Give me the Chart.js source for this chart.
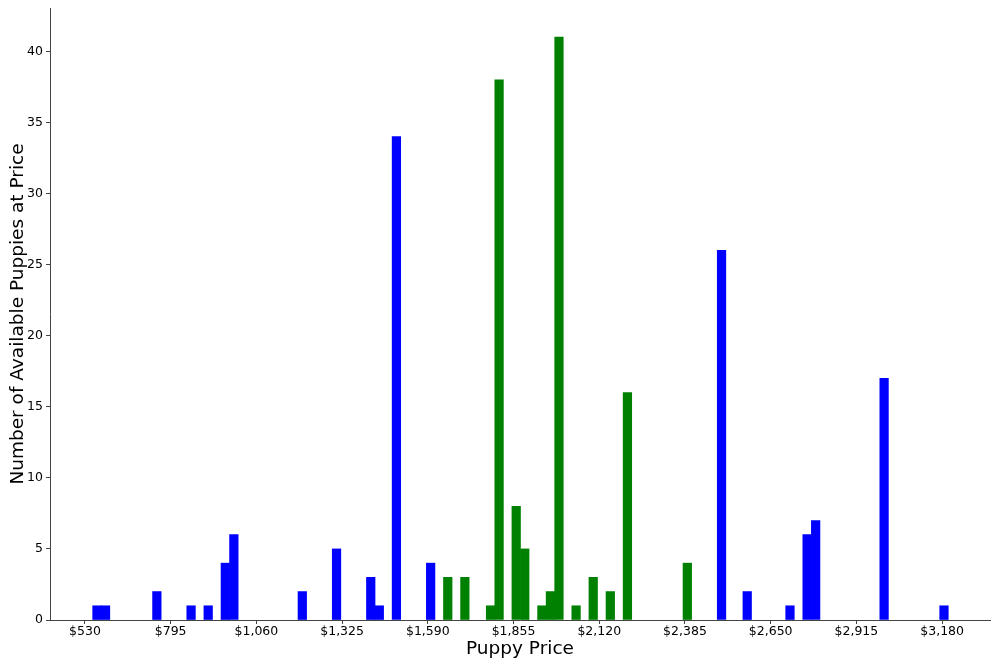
<!DOCTYPE html>
<html>
<head>
<meta charset="utf-8">
<title>Puppy Price</title>
<script src="https://cdn.jsdelivr.net/npm/chart.js@4"></script>
<style>
  body { margin: 0; background: #fff; }
  canvas { display: block; }
</style>
</head>
<body>
<canvas id="puppyChart" width="1000" height="666"></canvas>
<script>
// histogram: 100 bins, each ~$26.45 wide, starting at ~$554
const binStart = 554;
const binWidth = 26.45;

// bin index -> count
const blueBins = [0, 1, 7, 11, 13, 15, 16, 24, 28, 32, 33, 35, 39, 73, 76, 81, 83, 84, 92, 99];
const blueCounts = [1, 1, 2, 1, 1, 4, 6, 2, 5, 3, 1, 34, 4, 26, 2, 1, 6, 7, 17, 1];
const greenBins = [41, 43, 46, 47, 49, 50, 52, 53, 54, 56, 58, 60, 62, 69];
const greenCounts = [3, 3, 1, 38, 8, 5, 1, 2, 41, 1, 3, 2, 16, 4];

const xTicks = [530, 795, 1060, 1325, 1590, 1855, 2120, 2385, 2650, 2915, 3180];
const yTicks = [0, 5, 10, 15, 20, 25, 30, 35, 40];

function toPoints(bins, counts) {
  return bins.map(function (b, i) {
    return { x: binStart + binWidth * b + binWidth / 2, y: counts[i] };
  });
}

function money(v) {
  return "$" + v.toString().replace(/\B(?=(\d{3})+(?!\d))/g, ",");
}

const ctx = document.getElementById("puppyChart").getContext("2d");
Chart.defaults.font.family = "'DejaVu Sans', sans-serif";
Chart.defaults.color = "#000";

new Chart(ctx, {
  type: "bar",
  data: {
    datasets: [
      {
        label: "blue",
        data: toPoints(blueBins, blueCounts),
        backgroundColor: "#0000ff",
        borderWidth: 0,
      },
      {
        label: "green",
        data: toPoints(greenBins, greenCounts),
        backgroundColor: "#008000",
        borderWidth: 0,
      },
    ],
  },
  options: {
    responsive: false,
    animation: false,
    grouped: false,
    barPercentage: 1,
    categoryPercentage: 1,
    layout: { padding: { top: 0, right: 10, left: 0, bottom: 0 } },
    scales: {
      x: {
        type: "linear",
        offset: false,
        min: 422,
        max: 3328,
        afterBuildTicks: function (axis) {
          axis.ticks = xTicks.map(function (v) { return { value: v }; });
        },
        afterFit: function (axis) { axis.height = 46; },
        ticks: {
          font: { size: 12.5 },
          padding: 0,
          maxRotation: 0,
          callback: function (v) { return money(v); },
        },
        grid: { offset: false, drawOnChartArea: false, drawTicks: true, tickLength: 4, color: "#444" },
        border: { display: true, color: "#444", width: 1 },
        title: {
          display: true,
          text: "Puppy Price",
          font: { size: 18.5 },
          padding: { top: 2, bottom: 6 },
        },
      },
      y: {
        min: 0,
        max: 43.05,
        afterBuildTicks: function (axis) {
          axis.ticks = yTicks.map(function (v) { return { value: v }; });
        },
        afterFit: function (axis) {
          axis.width = 50;
          axis.paddingTop = 0;
        },
        ticks: { font: { size: 12.5 }, padding: 3 },
        grid: { drawOnChartArea: false, drawTicks: true, tickLength: 4, color: "#444" },
        border: { display: true, color: "#444", width: 1 },
        title: {
          display: true,
          text: "Number of Available Puppies at Price",
          font: { size: 18.5 },
          padding: { top: 7, bottom: 2 },
        },
      },
    },
    plugins: {
      legend: { display: false },
    },
  },
  plugins: [{
    id: "topGap",
    beforeLayout: function (chart) {
      chart.options.layout.padding.top = 8;
    },
  }],
});
</script>
</body>
</html>
